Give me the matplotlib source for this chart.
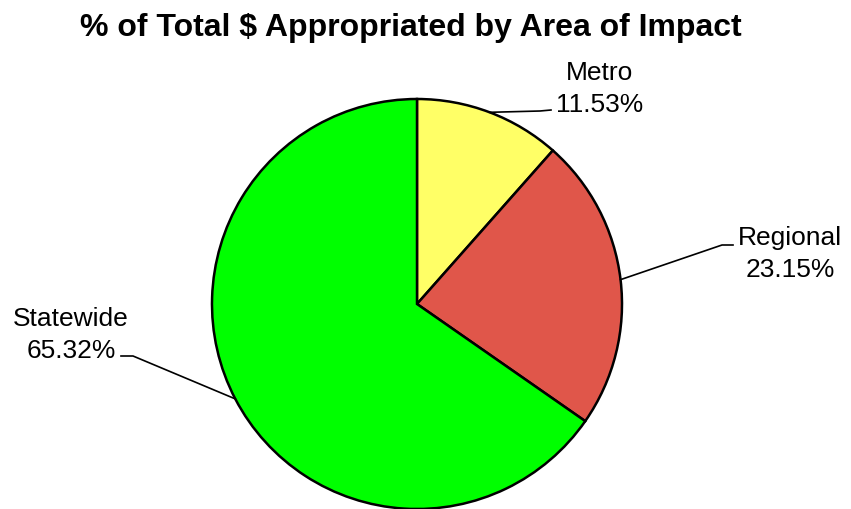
import matplotlib.pyplot as plt
import numpy as np

plt.rcParams['font.family'] = ['Liberation Sans', 'DejaVu Sans']

labels = ["Metro", "Regional", "Statewide"]
shares = [11.53, 23.15, 65.32]
colors = ["#FFFF66", "#E0564A", "#00FF00"]

# layout in pixel units (y measured from bottom)
W, H = 851, 510
cx, cy, r = 417, 205, 205
labelPos = [(600, 421), (790, 256), (71, 175)]
elbows = [((540, 398), (551, 399)), ((722, 264), (733, 264)), ((133, 153), (121, 153))]

fig = plt.figure(figsize=(W / 100, H / 100), dpi=100)
ax = fig.add_axes([0, 0, 1, 1])
wedges, _ = ax.pie(shares, colors=colors, startangle=90, counterclock=False,
                   center=(cx, cy), radius=r,
                   wedgeprops=dict(edgecolor="black", linewidth=1.8))
ax.set_xlim(0, W)
ax.set_ylim(0, H)
ax.set_aspect("equal")
ax.axis("off")

for w, lab, val, pos, elb in zip(wedges, labels, shares, labelPos, elbows):
    mid = np.deg2rad((w.theta1 + w.theta2) / 2)
    ex, ey = cx + r * np.cos(mid), cy + r * np.sin(mid)
    xs = [ex, elb[0][0], elb[1][0]]
    ys = [ey, elb[0][1], elb[1][1]]
    ax.plot(xs, ys, color="black", linewidth=1.2, clip_on=False)
    ax.text(pos[0], pos[1], f"{lab}\n{val:.2f}%", ha="center", va="center",
            multialignment="center", fontsize=19, linespacing=1.45)

fig.text(411 / W, 1 - 28 / H, "% of Total $ Appropriated by Area of Impact",
         ha="center", va="center", fontsize=23, fontweight="bold")

plt.savefig("out.png", dpi=100)
